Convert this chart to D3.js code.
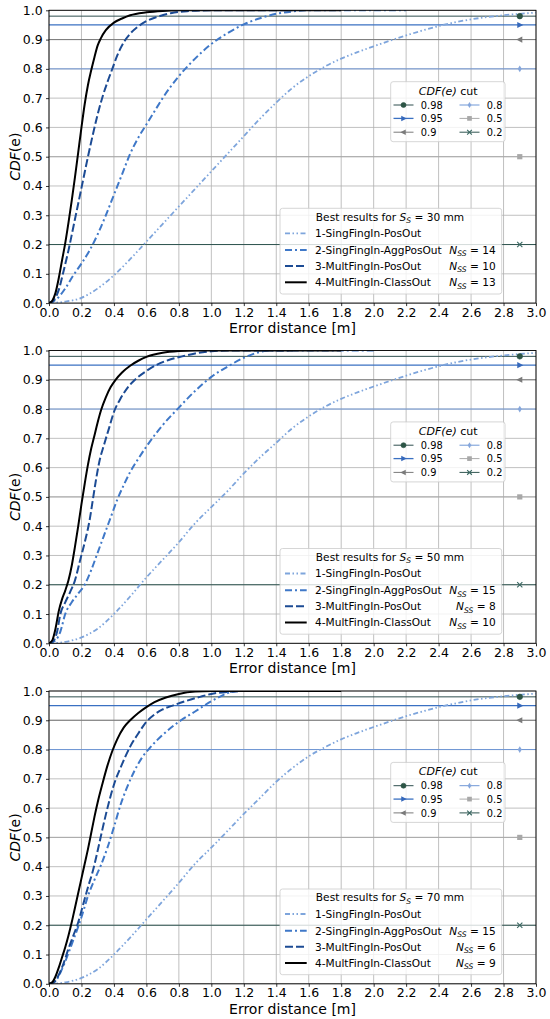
<!DOCTYPE html>
<html><head><meta charset="utf-8">
<script src="https://cdn.jsdelivr.net/npm/d3@7"></script>
<style>body{margin:0;background:#fff}svg{display:block}text{font-family:"DejaVu Sans",sans-serif;fill:#000}</style>
</head><body>
<svg id="c" width="550" height="1019"></svg>
<script>
// ---------------- DATA ----------------
const xTicks = [0,0.2,0.4,0.6,0.8,1.0,1.2,1.4,1.6,1.8,2.0,2.2,2.4,2.6,2.8,3.0];
const yTicks = [0,0.1,0.2,0.3,0.4,0.5,0.6,0.7,0.8,0.9,1.0];
const sizesMM = [30, 50, 70];
const seriesNames = ["1-SingFingIn-PosOut","2-SingFingIn-AggPosOut","3-MultFingIn-PosOut","4-MultFingIn-ClassOut"];
const nss30 = [null, 14, 10, 13];
const nss50 = [null, 15, 8, 10];
const nss70 = [null, 15, 6, 9];
const cutLevels = [0.98, 0.95, 0.9, 0.8, 0.5, 0.2];
const cutLabels = ["0.98","0.95","0.9","0.8","0.5","0.2"];
const cutMarkerX = 2.9;

// S_S = 30 mm
const cdf30_s1 = [[0,0],[0.1,0.005],[0.2,0.018],[0.3,0.05],[0.4,0.095],[0.5,0.15],[0.6,0.21],[0.7,0.27],[0.8,0.33],[0.9,0.39],[1.0,0.45],[1.1,0.51],[1.2,0.57],[1.3,0.63],[1.4,0.685],[1.5,0.735],[1.6,0.775],[1.7,0.808],[1.8,0.835],[1.9,0.857],[2.0,0.877],[2.1,0.896],[2.2,0.914],[2.3,0.931],[2.4,0.946],[2.5,0.959],[2.6,0.969],[2.7,0.977],[2.8,0.983],[2.9,0.988],[3.0,0.992]];
const cdf30_s2 = [[0,0],[0.05,0.015],[0.1,0.05],[0.15,0.095],[0.2,0.135],[0.25,0.18],[0.3,0.235],[0.35,0.3],[0.4,0.37],[0.45,0.44],[0.5,0.51],[0.55,0.565],[0.6,0.61],[0.65,0.655],[0.7,0.7],[0.8,0.775],[0.9,0.835],[1.0,0.885],[1.1,0.922],[1.2,0.952],[1.3,0.973],[1.4,0.988],[1.5,0.996],[1.6,1.0],[2.2,1.0]];
const cdf30_s3 = [[0,0],[0.03,0.01],[0.06,0.045],[0.09,0.11],[0.12,0.18],[0.15,0.26],[0.18,0.34],[0.21,0.42],[0.24,0.5],[0.27,0.575],[0.3,0.645],[0.33,0.705],[0.36,0.755],[0.39,0.8],[0.42,0.845],[0.46,0.89],[0.5,0.92],[0.55,0.945],[0.6,0.963],[0.67,0.978],[0.75,0.99],[0.85,0.997],[1.0,1.0],[1.5,1.0]];
const cdf30_s4 = [[0,0],[0.02,0.008],[0.04,0.035],[0.06,0.085],[0.08,0.145],[0.1,0.205],[0.12,0.275],[0.14,0.35],[0.16,0.43],[0.18,0.515],[0.2,0.6],[0.22,0.68],[0.24,0.745],[0.26,0.795],[0.28,0.84],[0.3,0.88],[0.32,0.905],[0.35,0.932],[0.4,0.958],[0.45,0.972],[0.5,0.983],[0.6,0.993],[0.7,0.998],[0.8,1.0],[1.8,1.0]];

// S_S = 50 mm
const cdf50_s1 = [[0,0],[0.1,0.005],[0.2,0.02],[0.3,0.05],[0.4,0.1],[0.5,0.16],[0.6,0.225],[0.7,0.285],[0.8,0.345],[0.9,0.41],[1.0,0.465],[1.1,0.52],[1.2,0.58],[1.3,0.635],[1.4,0.685],[1.5,0.735],[1.6,0.775],[1.7,0.808],[1.8,0.835],[1.9,0.857],[2.0,0.877],[2.1,0.896],[2.2,0.914],[2.3,0.931],[2.4,0.946],[2.5,0.959],[2.6,0.969],[2.7,0.977],[2.8,0.983],[2.9,0.988],[3.0,0.992]];
const cdf50_s2 = [[0,0],[0.04,0.01],[0.07,0.04],[0.1,0.1],[0.14,0.14],[0.18,0.17],[0.22,0.2],[0.26,0.25],[0.3,0.31],[0.34,0.37],[0.38,0.43],[0.42,0.49],[0.46,0.54],[0.5,0.585],[0.55,0.63],[0.6,0.672],[0.7,0.745],[0.8,0.805],[0.9,0.862],[1.0,0.91],[1.1,0.945],[1.2,0.975],[1.3,0.995],[1.35,1.0],[2.0,1.0]];
const cdf50_s3 = [[0,0],[0.03,0.01],[0.05,0.04],[0.07,0.1],[0.1,0.14],[0.13,0.175],[0.16,0.215],[0.19,0.28],[0.22,0.345],[0.25,0.42],[0.27,0.49],[0.29,0.56],[0.31,0.62],[0.34,0.68],[0.37,0.735],[0.4,0.79],[0.44,0.835],[0.48,0.87],[0.53,0.9],[0.6,0.93],[0.66,0.95],[0.75,0.97],[0.82,0.98],[0.9,0.99],[1.0,0.997],[1.1,1.0],[1.5,1.0]];
const cdf50_s4 = [[0,0],[0.02,0.01],[0.04,0.05],[0.06,0.11],[0.08,0.15],[0.1,0.18],[0.12,0.215],[0.14,0.265],[0.16,0.33],[0.18,0.4],[0.2,0.475],[0.22,0.545],[0.24,0.61],[0.26,0.665],[0.28,0.71],[0.3,0.755],[0.32,0.795],[0.35,0.84],[0.38,0.875],[0.41,0.9],[0.45,0.925],[0.5,0.948],[0.55,0.965],[0.6,0.978],[0.7,0.992],[0.8,0.998],[0.9,1.0],[1.8,1.0]];

// S_S = 70 mm
const cdf70_s1 = [[0,0],[0.1,0.005],[0.2,0.02],[0.3,0.05],[0.4,0.1],[0.5,0.158],[0.6,0.22],[0.7,0.282],[0.8,0.345],[0.9,0.41],[1.0,0.465],[1.1,0.522],[1.2,0.58],[1.3,0.635],[1.4,0.69],[1.5,0.737],[1.6,0.777],[1.7,0.808],[1.8,0.835],[1.9,0.857],[2.0,0.877],[2.1,0.896],[2.2,0.914],[2.3,0.93],[2.4,0.945],[2.5,0.957],[2.6,0.968],[2.7,0.976],[2.8,0.982],[2.9,0.987],[3.0,0.991]];
const cdf70_s2 = [[0,0],[0.04,0.01],[0.08,0.05],[0.12,0.105],[0.15,0.15],[0.18,0.195],[0.21,0.245],[0.24,0.3],[0.28,0.355],[0.32,0.405],[0.36,0.465],[0.4,0.535],[0.44,0.61],[0.48,0.67],[0.52,0.72],[0.57,0.77],[0.62,0.805],[0.7,0.85],[0.8,0.895],[0.9,0.93],[0.95,0.948],[1.0,0.965],[1.05,0.98],[1.1,0.993],[1.15,0.999],[1.2,1.0],[1.5,1.0]];
const cdf70_s3 = [[0,0],[0.03,0.005],[0.06,0.03],[0.09,0.07],[0.12,0.12],[0.15,0.165],[0.18,0.21],[0.21,0.27],[0.24,0.33],[0.27,0.385],[0.3,0.455],[0.33,0.53],[0.36,0.6],[0.4,0.68],[0.45,0.75],[0.5,0.81],[0.55,0.855],[0.6,0.895],[0.65,0.92],[0.7,0.937],[0.77,0.952],[0.85,0.967],[0.93,0.98],[1.0,0.99],[1.1,0.997],[1.2,1.0],[1.5,1.0]];
const cdf70_s4 = [[0,0],[0.02,0.005],[0.04,0.025],[0.06,0.055],[0.08,0.09],[0.1,0.125],[0.12,0.165],[0.14,0.21],[0.16,0.26],[0.18,0.31],[0.2,0.36],[0.22,0.41],[0.24,0.46],[0.26,0.515],[0.28,0.57],[0.3,0.62],[0.33,0.685],[0.36,0.745],[0.39,0.795],[0.42,0.835],[0.46,0.875],[0.5,0.9],[0.55,0.925],[0.6,0.945],[0.65,0.962],[0.72,0.978],[0.8,0.99],[0.9,0.998],[1.0,1.0],[1.8,1.0]];

// ---------------- STYLE ----------------
const seriesColors = ["#7ea5dc","#3f78c8","#1c4b94","#000000"];
const seriesDash = ["5,2.5,1.5,2.5,1.5,2.5","7,3,2,3","8,3",null];
const seriesWidth = [1.8, 2, 2, 2];
const cutColors = ["#2f4f4f","#3a70c2","#7a7a7a","#6f97d6","#aaaaaa","#2f5550"];
const cutMarkerColors = ["#2c5445","#3568bb","#7a7a7a","#86a7dc","#a8a8a8","#3a6862"];
const cutWidths = [1, 1.3, 1, 1, 1, 1];
const cutShapes = ["circle","tright","tleft","thindiamond","square","x"];

const left = 49, right = 536, ph = 292.8;
const panelTops = [10.3, 350.5, 691];
const panels = [
  {mm: sizesMM[0], nss: nss30, data: [cdf30_s1, cdf30_s2, cdf30_s3, cdf30_s4]},
  {mm: sizesMM[1], nss: nss50, data: [cdf50_s1, cdf50_s2, cdf50_s3, cdf50_s4]},
  {mm: sizesMM[2], nss: nss70, data: [cdf70_s1, cdf70_s2, cdf70_s3, cdf70_s4]}
];

const svg = d3.select("#c");
const defs = svg.append("defs");
const x = d3.scaleLinear().domain([0, 3]).range([left, right]);

function drawMarker(g, shape, cx, cy, color, s) {
  s = s || 1;
  if (shape === "circle") {
    g.append("circle").attr("cx", cx).attr("cy", cy).attr("r", 2.8*s).attr("fill", color).attr("stroke", color).attr("stroke-width", 0.6);
  } else if (shape === "tright" || shape === "tleft") {
    const r = 3.6*s, dir = shape === "tright" ? 1 : -1;
    g.append("path").attr("d", `M${cx+dir*r},${cy} L${cx-dir*r*0.7},${cy-r*0.85} L${cx-dir*r*0.7},${cy+r*0.85} Z`).attr("fill", color);
  } else if (shape === "thindiamond") {
    const r = 3.4*s;
    g.append("path").attr("d", `M${cx},${cy-r} L${cx+r*0.6},${cy} L${cx},${cy+r} L${cx-r*0.6},${cy} Z`).attr("fill", color);
  } else if (shape === "square") {
    const r = 2.6*s;
    g.append("rect").attr("x", cx-r).attr("y", cy-r).attr("width", 2*r).attr("height", 2*r).attr("fill", color);
  } else if (shape === "x") {
    const r = 2.6*s;
    g.append("path").attr("d", `M${cx-r},${cy-r} L${cx+r},${cy+r} M${cx-r},${cy+r} L${cx+r},${cy-r}`).attr("stroke", color).attr("stroke-width", 1.1).attr("fill", "none");
  }
}

panels.forEach((p, i) => {
  const top = panelTops[i], bottom = top + ph;
  const y = d3.scaleLinear().domain([0, 1]).range([bottom, top]);
  const g = svg.append("g");
  const cid = "clip" + i;
  defs.append("clipPath").attr("id", cid).append("rect")
    .attr("x", left).attr("y", top).attr("width", right - left).attr("height", ph);

  // grid
  g.append("g").selectAll("line").data(xTicks).join("line")
    .attr("x1", d => x(d)).attr("x2", d => x(d)).attr("y1", top).attr("y2", bottom)
    .attr("stroke", "#b0b0b0").attr("stroke-width", 0.8);
  g.append("g").selectAll("line").data(yTicks).join("line")
    .attr("y1", d => y(d)).attr("y2", d => y(d)).attr("x1", left).attr("x2", right)
    .attr("stroke", "#b0b0b0").attr("stroke-width", 0.8);

  // cut lines
  g.append("g").selectAll("line").data(cutLevels).join("line")
    .attr("x1", left).attr("x2", right).attr("y1", d => y(d)).attr("y2", d => y(d))
    .attr("stroke", (d, k) => cutColors[k]).attr("stroke-width", (d, k) => cutWidths[k]);

  // curves
  const line = d3.line().x(d => x(d[0])).y(d => y(d[1])).curve(d3.curveMonotoneX);
  const cg = g.append("g").attr("clip-path", `url(#${cid})`);
  p.data.forEach((ser, k) => {
    cg.append("path").datum(ser).attr("d", line).attr("fill", "none")
      .attr("stroke", seriesColors[k]).attr("stroke-width", seriesWidth[k])
      .attr("stroke-dasharray", seriesDash[k]);
  });

  // cut markers
  const mg = g.append("g");
  cutLevels.forEach((lv, k) => drawMarker(mg, cutShapes[k], x(cutMarkerX), y(lv), cutMarkerColors[k]));

  // spines
  g.append("rect").attr("x", left).attr("y", top).attr("width", right - left).attr("height", ph)
    .attr("fill", "none").attr("stroke", "#000").attr("stroke-width", 0.9);

  // axes
  const ax = g.append("g").attr("transform", `translate(0,${bottom})`)
    .call(d3.axisBottom(x).tickValues(xTicks).tickFormat(d3.format(".1f")).tickSize(3).tickPadding(1.8));
  const ay = g.append("g").attr("transform", `translate(${left},0)`)
    .call(d3.axisLeft(y).tickValues(yTicks).tickFormat(d3.format(".1f")).tickSize(3).tickPadding(3.3));
  [ax, ay].forEach(a => {
    a.select(".domain").remove();
    a.selectAll(".tick line").attr("stroke", "#000").attr("stroke-width", 0.8);
    a.selectAll(".tick text").attr("font-size", 12.5).attr("font-family", "DejaVu Sans").attr("fill", "#000");
  });

  // axis labels
  g.append("text").attr("x", (left + right) / 2).attr("y", bottom + 30).attr("text-anchor", "middle")
    .attr("font-size", 14).text("Error distance [m]");
  const yl = g.append("text").attr("transform", `translate(20,${(top + bottom) / 2}) rotate(-90)`)
    .attr("text-anchor", "middle").attr("font-size", 14);
  yl.append("tspan").attr("font-style", "italic").text("CDF");
  yl.append("tspan").text("(e)");

  // legend 1: CDF cut
  const l1 = g.append("g");
  const l1x = 390.7, l1y = top + 71.4;
  l1.append("rect").attr("x", l1x).attr("y", l1y).attr("width", 114.3).attr("height", 60).attr("rx", 2.5)
    .attr("fill", "#fff").attr("fill-opacity", 0.8).attr("stroke", "#cccccc").attr("stroke-width", 0.8);
  const t1 = l1.append("text").attr("x", l1x + 57.5).attr("y", l1y + 13).attr("text-anchor", "middle").attr("font-size", 11);
  t1.append("tspan").attr("font-style", "italic").text("CDF(e)");
  t1.append("tspan").text(" cut");
  const rowsY = [23.3, 36.7, 50.5];
  cutLevels.forEach((lv, k) => {
    const col = Math.floor(k / 3), row = k % 3;
    const hx0 = col === 0 ? 393.5 : 459.5;
    const cy = l1y + rowsY[row];
    l1.append("line").attr("x1", hx0).attr("x2", hx0 + 20).attr("y1", cy).attr("y2", cy)
      .attr("stroke", cutColors[k]).attr("stroke-width", cutWidths[k]);
    drawMarker(l1, cutShapes[k], hx0 + 10, cy, cutMarkerColors[k], 0.9);
    l1.append("text").attr("x", hx0 + 27.3).attr("y", cy + 3.6).attr("font-size", 9.8).text(cutLabels[k]);
  });

  // legend 2: series
  const l2 = g.append("g");
  const l2x = 280, l2y = top + 198;
  l2.append("rect").attr("x", l2x).attr("y", l2y).attr("width", 221.7).attr("height", 85.7).attr("rx", 2.5)
    .attr("fill", "#fff").attr("fill-opacity", 0.8).attr("stroke", "#cccccc").attr("stroke-width", 0.8);
  const t2 = l2.append("text").attr("x", 390).attr("y", l2y + 12.3).attr("text-anchor", "middle").attr("font-size", 10.6);
  t2.append("tspan").text("Best results for ");
  t2.append("tspan").attr("font-style", "italic").text("S");
  t2.append("tspan").attr("font-style", "italic").attr("font-size", 7.6).attr("dy", 2.5).text("S");
  t2.append("tspan").attr("dy", -2.5).text(" = " + p.mm + " mm");
  const rows2 = [25, 41.7, 57.7, 74];
  seriesNames.forEach((nm, k) => {
    const cy = l2y + rows2[k];
    l2.append("line").attr("x1", 285).attr("x2", 306.7).attr("y1", cy).attr("y2", cy)
      .attr("stroke", seriesColors[k]).attr("stroke-width", seriesWidth[k]).attr("stroke-dasharray", seriesDash[k]);
    l2.append("text").attr("x", 315).attr("y", cy + 3.9).attr("font-size", 10.6).text(nm);
    if (p.nss[k] !== null) {
      const tn = l2.append("text").attr("x", 495.7).attr("y", cy + 3.9).attr("text-anchor", "end").attr("font-size", 10.6);
      tn.append("tspan").attr("font-style", "italic").text("N");
      tn.append("tspan").attr("font-style", "italic").attr("font-size", 7.6).attr("dy", 2.5).text("SS");
      tn.append("tspan").attr("dy", -2.5).text(" = " + p.nss[k]);
    }
  });
});
</script>
</body></html>
